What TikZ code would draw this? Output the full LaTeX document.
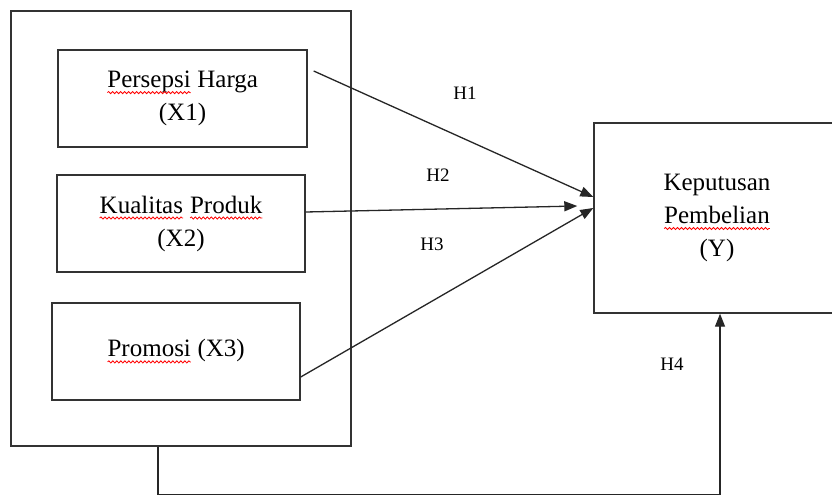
\documentclass[tikz,border=0pt]{standalone}
\usepackage{fontspec}
\setmainfont{Liberation Serif}
\usetikzlibrary{arrows.meta,calc,decorations.pathmorphing}
\newcommand\squig[1]{\tikz[baseline=(w.base)]{\node[inner sep=0pt,outer sep=0pt,draw=none,minimum width=0pt,minimum height=0pt](w){#1};\draw[red,line width=0.8pt,decorate,decoration={snake,amplitude=1.1pt,segment length=4pt}] ($(w.base west)+(0,-5pt)$) -- ($(w.base east)+(0,-5pt)$);}}
\tikzset{
  box/.style={draw=black!80,line width=1.4pt,align=center,inner sep=0pt,
    font=\fontsize{25}{33}\selectfont},
  conn/.style={draw=black!85,line width=1.3pt,-{Triangle[length=13pt,width=10pt]}},
  hlab/.style={font=\fontsize{19}{22}\selectfont,inner sep=0pt}
}
\begin{document}
\begin{tikzpicture}[x=1pt,y=-1pt]
\useasboundingbox (0,0) rectangle (832,497);
\fill[white] (0,0) rectangle (832,497);
\node[box,minimum width=340pt,minimum height=435pt] (outer) at (181,228.5) {};
\node[box,minimum width=249pt,minimum height=97pt] (b1) at (182.5,98.5) {\squig{Persepsi} Harga\\(X1)};
\node[box,minimum width=248pt,minimum height=97pt] (b2) at (181,223.5) {\squig{Kualitas} \squig{Produk}\\(X2)};
\node[box,minimum width=248pt,minimum height=97pt] (b3) at (176,351.5) {\squig{Promosi} (X3)};
\node[box,minimum width=246pt,minimum height=190pt] (y) at (717,218) {Keputusan\\\squig{Pembelian}\\(Y)};
\draw[conn] ($(b1.east)+(6,-27.5)$) -- ($(y.west)+(0,-21)$);
\draw[conn] ($(b2.east)+(0,-11.5)$) -- ($(y.west)+(-16,-12)$);
\draw[conn] ($(b3.east)+(0,25.5)$) -- ($(y.west)+(0,-10)$);
\draw[conn] ($(outer.south)+(-23,0)$) -- ++(0,48) -| ($(y.south)+(3,0)$);
\node[hlab] (h1) at (465,93) {H1};
\node[hlab] (h2) at (438,175) {H2};
\node[hlab] (h3) at (432,244) {H3};
\node[hlab] (h4) at (672,364) {H4};
\end{tikzpicture}
\end{document}
